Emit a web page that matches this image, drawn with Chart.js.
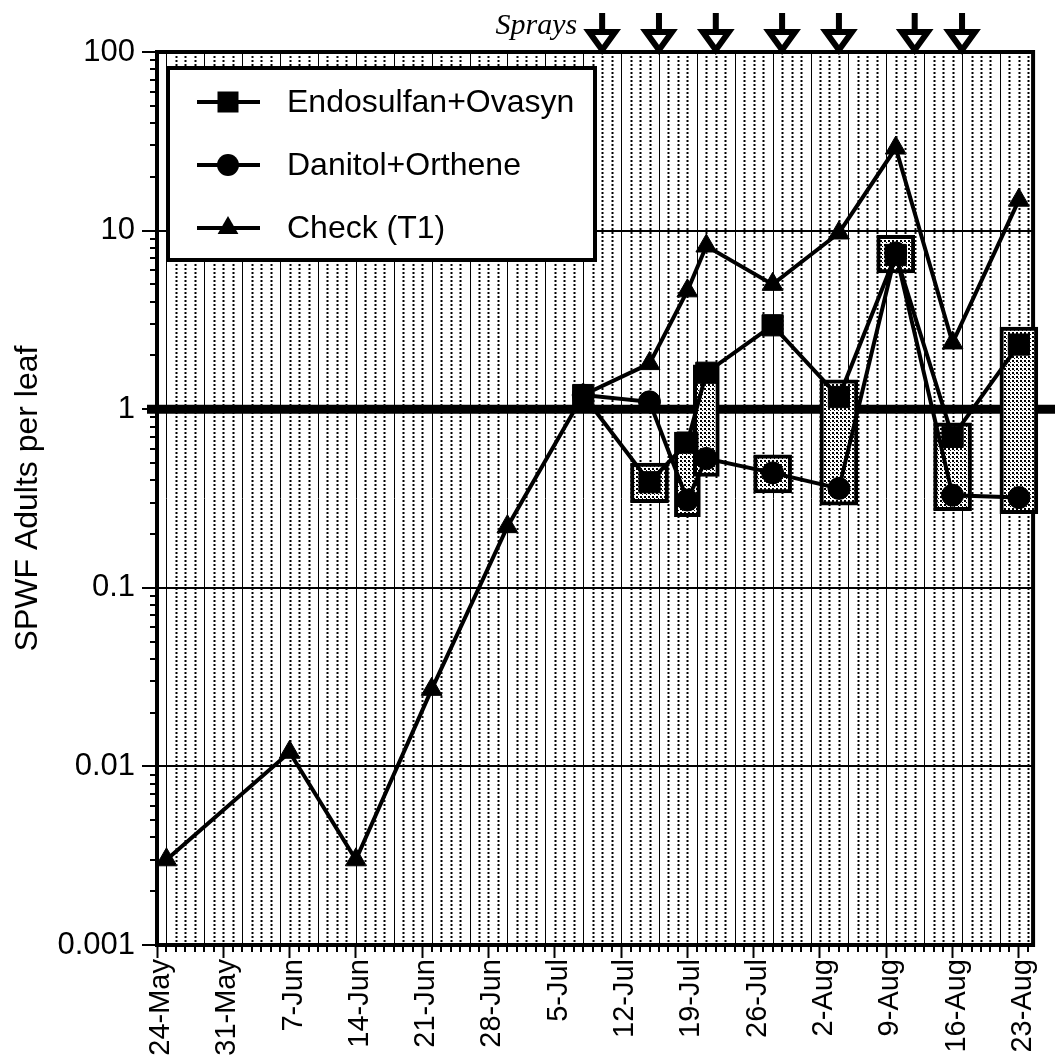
<!DOCTYPE html>
<html>
<head>
<meta charset="utf-8">
<title>SPWF Adults per leaf</title>
<script src="https://cdn.jsdelivr.net/npm/chart.js@4.4.1/dist/chart.umd.min.js"></script>
<style>
  html, body { margin: 0; padding: 0; background: #fff; }
  canvas { display: block; }
</style>
</head>
<body>
<canvas id="sprayChart" width="1055" height="1060"></canvas>
<script>
// all x values are days counted from 24-May
const weekLabels = ['24-May', '31-May', '7-Jun', '14-Jun', '21-Jun', '28-Jun', '5-Jul',
                    '12-Jul', '19-Jul', '26-Jul', '2-Aug', '9-Aug', '16-Aug', '23-Aug'];

const checkDays   = [1, 14, 21, 29, 37, 45, 52, 56, 58, 65, 72, 78, 84, 91];
const checkValues = [0.003, 0.012, 0.003, 0.027, 0.22, 1.2, 1.8, 4.6, 8.2, 5.0, 9.7, 29, 2.35, 14.8];

const treatDays   = [45, 52, 56, 58, 65, 72, 78, 84, 91];
const endoValues  = [1.2, 0.39, 0.65, 1.6, 2.95, 1.17, 7.3, 0.70, 2.3];
const daniValues  = [1.2, 1.1, 0.31, 0.53, 0.44, 0.36, 7.5, 0.33, 0.32];

// shaded range boxes
const boxDaysWide  = [52, 65, 72, 78, 84, 91];
const boxLowWide   = [0.30, 0.34, 0.29, 5.8, 0.27, 0.26];
const boxHighWide  = [0.50, 0.555, 1.46, 9.4, 0.84, 2.88];
const boxDaysNarrow = [56, 58];
const boxLowNarrow  = [0.25, 0.42];
const boxHighNarrow = [0.745, 1.77];

const sprayDays = [47, 53, 59, 66, 72, 80, 85];
const threshold = 1;

Chart.defaults.font.family = '"Liberation Sans", Arial, Helvetica, sans-serif';
Chart.defaults.color = '#000';

function isDecade(v) {
    const l = Math.log10(v);
    return Math.abs(l - Math.round(l)) < 1e-9;
}

function stipple() {
    const c = document.createElement('canvas');
    c.width = 4; c.height = 4;
    const g = c.getContext('2d');
    g.fillStyle = '#fff';
    g.fillRect(0, 0, 4, 4);
    g.fillStyle = '#000';
    g.fillRect(0, 0, 2, 2);
    g.fillRect(2, 2, 1, 1);
    return g.createPattern(c, 'repeat');
}

function marker(ctx, style, x, y) {
    ctx.beginPath();
    if (style === 'rect') {
        ctx.rect(x - 10.5, y - 10.5, 21, 21);
    } else if (style === 'circle') {
        ctx.arc(x, y, 11, 0, Math.PI * 2);
    } else {
        ctx.moveTo(x, y - 12);
        ctx.lineTo(x + 10.4, y + 6);
        ctx.lineTo(x - 10.4, y + 6);
        ctx.closePath();
    }
    ctx.fill();
}

const decor = {
    id: 'decor',
    beforeDraw(chart) {
        const { ctx, chartArea: ca, scales: { x } } = chart;
        ctx.save();
        ctx.beginPath();
        ctx.rect(ca.left, ca.top, ca.width, ca.height);
        ctx.clip();
        ctx.strokeStyle = '#000';
        for (let d = 0; d <= 93; d++) {
            const px = Math.round(x.getPixelForValue(d)) + 0.5;
            ctx.beginPath();
            if ((d - 1) % 4 === 0) {
                ctx.lineWidth = 1;
                ctx.setLineDash([]);
            } else {
                ctx.lineWidth = 2;
                ctx.setLineDash([2, 2]);
            }
            ctx.moveTo(px, ca.top);
            ctx.lineTo(px, ca.bottom);
            ctx.stroke();
        }
        ctx.restore();
    },
    beforeDatasetsDraw(chart) {
        const { ctx, chartArea: ca, scales: { x, y } } = chart;
        ctx.save();
        ctx.strokeStyle = '#000';
        // frame
        ctx.lineWidth = 4;
        ctx.strokeRect(ca.left, ca.top, ca.width, ca.height);
        // threshold line
        const ty = y.getPixelForValue(threshold);
        ctx.lineWidth = 9;
        ctx.beginPath();
        ctx.moveTo(ca.left - 10, ty);
        ctx.lineTo(chart.width, ty);
        ctx.stroke();
        // minor ticks
        ctx.lineWidth = 2;
        ctx.beginPath();
        for (let e = -3; e < 2; e++) {
            for (let k = 2; k < 10; k++) {
                const py = Math.round(y.getPixelForValue(k * Math.pow(10, e)));
                ctx.moveTo(ca.left - 7, py);
                ctx.lineTo(ca.left, py);
            }
        }
        for (let d = 0; d <= 92; d++) {
            if (d % 7 === 0) continue;
            const px = Math.round(x.getPixelForValue(d));
            ctx.moveTo(px, ca.bottom);
            ctx.lineTo(px, ca.bottom + 7);
        }
        ctx.stroke();
        ctx.restore();
    },
    afterDraw(chart) {
        const { ctx, chartArea: ca, scales: { x } } = chart;
        ctx.save();
        // spray arrows
        sprayDays.forEach(d => {
            const px = x.getPixelForValue(d);
            ctx.fillStyle = '#000';
            ctx.fillRect(px - 3, 13, 6, 20);
            ctx.beginPath();
            ctx.moveTo(px - 13, ca.top - 20);
            ctx.lineTo(px + 13, ca.top - 20);
            ctx.lineTo(px, ca.top - 2);
            ctx.closePath();
            ctx.fillStyle = '#fff';
            ctx.fill();
            ctx.lineWidth = 6;
            ctx.lineJoin = 'miter';
            ctx.strokeStyle = '#000';
            ctx.stroke();
        });
        ctx.fillStyle = '#000';
        ctx.font = 'italic 30px "Liberation Serif", "Times New Roman", serif';
        ctx.textAlign = 'right';
        ctx.textBaseline = 'alphabetic';
        ctx.fillText('Sprays', x.getPixelForValue(sprayDays[0]) - 25, 34);

        // legend
        const lx = ca.left + 11, ly = ca.top + 16;
        ctx.fillStyle = '#fff';
        ctx.fillRect(lx, ly, 427, 192);
        ctx.lineWidth = 4;
        ctx.strokeStyle = '#000';
        ctx.strokeRect(lx, ly, 427, 192);
        const items = [['Endosulfan+Ovasyn', 'rect'], ['Danitol+Orthene', 'circle'], ['Check (T1)', 'triangle']];
        ctx.font = '32px "Liberation Sans", Arial, sans-serif';
        ctx.textAlign = 'left';
        ctx.textBaseline = 'middle';
        items.forEach(([label, style], i) => {
            const ry = ly + 34 + i * 63;
            ctx.beginPath();
            ctx.moveTo(lx + 29, ry);
            ctx.lineTo(lx + 92, ry);
            ctx.lineWidth = 4;
            ctx.stroke();
            ctx.fillStyle = '#000';
            marker(ctx, style, lx + 60, ry);
            ctx.fillText(label, lx + 119, ry + 1);
        });
        ctx.restore();
    }
};

const pattern = stipple();

function lineSet(label, days, values, style, radius, order) {
    return {
        type: 'line',
        label: label,
        data: days.map((d, i) => ({ x: d, y: values[i] })),
        borderColor: '#000',
        borderWidth: 4,
        pointStyle: style,
        pointRadius: radius,
        pointBackgroundColor: '#000',
        pointBorderColor: '#000',
        pointBorderWidth: 1,
        tension: 0,
        order: order,
        clip: false
    };
}

function boxSet(days, low, high, thickness) {
    return {
        type: 'bar',
        data: days.map((d, i) => ({ x: d, y: [low[i], high[i]] })),
        backgroundColor: pattern,
        borderColor: '#000',
        borderWidth: 4,
        borderSkipped: false,
        barThickness: thickness,
        grouped: false,
        order: 5,
        clip: false
    };
}

new Chart(document.getElementById('sprayChart'), {
    type: 'line',
    data: {
        datasets: [
            boxSet(boxDaysWide, boxLowWide, boxHighWide, 38),
            boxSet(boxDaysNarrow, boxLowNarrow, boxHighNarrow, 26),
            lineSet('Check (T1)', checkDays, checkValues, 'triangle', 12, 3),
            lineSet('Danitol+Orthene', treatDays, daniValues, 'circle', 11, 2),
            lineSet('Endosulfan+Ovasyn', treatDays, endoValues, 'rect', 15, 1)
        ]
    },
    options: {
        responsive: false,
        animation: false,
        layout: { padding: { top: 52, right: 20, left: 0, bottom: 0 } },
        plugins: {
            legend: { display: false },
            tooltip: { enabled: false }
        },
        scales: {
            x: {
                type: 'linear',
                min: 0,
                max: 92.5,
                offset: false,
                afterFit: s => { s.height = 115; },
                border: { display: false },
                grid: {
                    offset: false,
                    drawOnChartArea: false,
                    tickLength: 13,
                    tickWidth: 2,
                    tickColor: '#000'
                },
                ticks: {
                    stepSize: 7,
                    autoSkip: false,
                    includeBounds: false,
                    minRotation: 90,
                    maxRotation: 90,
                    padding: 1,
                    labelOffset: 4,
                    font: { size: 29 },
                    callback: v => (v % 7 === 0 ? weekLabels[v / 7] : '') || ''
                }
            },
            y: {
                type: 'logarithmic',
                min: 0.001,
                max: 100,
                afterFit: s => { s.width = 157; },
                border: { display: false },
                grid: {
                    color: c => isDecade(c.tick.value) ? '#000' : 'rgba(0,0,0,0)',
                    lineWidth: 2,
                    tickLength: 15,
                    tickWidth: 2,
                    tickColor: c => isDecade(c.tick.value) ? '#000' : 'rgba(0,0,0,0)'
                },
                ticks: {
                    autoSkip: false,
                    padding: 7,
                    font: { size: 31 },
                    callback: v => isDecade(v) ? String(v) : ''
                },
                title: {
                    display: true,
                    text: 'SPWF Adults per leaf',
                    font: { size: 32 },
                    padding: { top: 9, bottom: 0 }
                }
            }
        }
    },
    plugins: [decor]
});
</script>
</body>
</html>
